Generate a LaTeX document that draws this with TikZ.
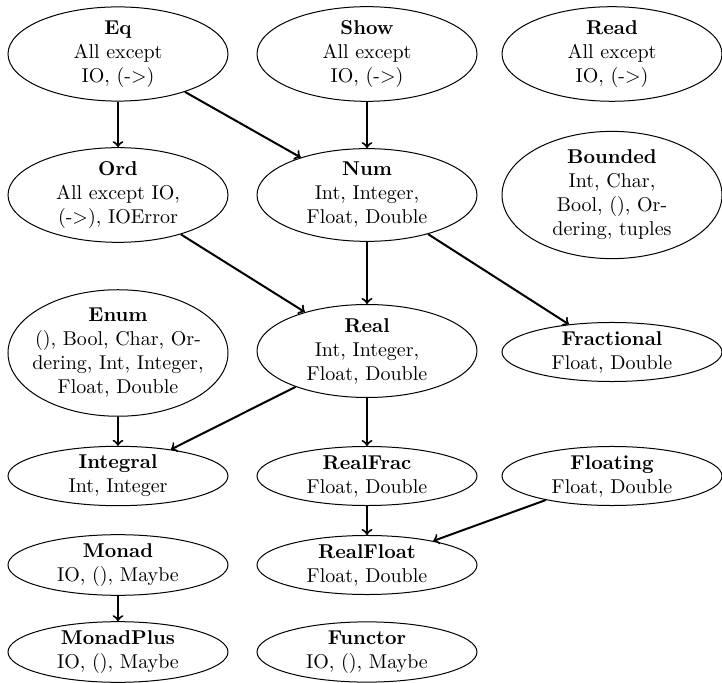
\documentclass[tikz,border=0pt]{standalone}
\usetikzlibrary{shapes.geometric}
\begin{document}
\begin{tikzpicture}[x=0.5pt,y=-0.5pt,
  cls/.style={draw,ellipse,inner sep=0pt,minimum width=110pt,align=center,line width=0.5pt},
  inh/.style={->,line width=1pt}]
\useasboundingbox (0,0) rectangle (722,683);
\node[cls] (eq) at (118,54) {\textbf{Eq}\\All except\\IO, (->)};
\node[cls] (show) at (367,54) {\textbf{Show}\\All except\\IO, (->)};
\node[cls] (read) at (612,54) {\textbf{Read}\\All except\\IO, (->)};
\node[cls] (ord) at (118,195) {\textbf{Ord}\\All except IO,\\(->), IOError};
\node[cls] (num) at (367,195) {\textbf{Num}\\Int, Integer,\\Float, Double};
\node[cls] (bounded) at (612,195) {\textbf{Bounded}\\Int, Char,\\Bool, (), Or-\\dering, tuples};
\node[cls,text width=77pt] (enum) at (118,353) {\textbf{Enum}\\\makebox[77pt]{(), Bool, Char, Or-}\\\makebox[77pt]{dering, Int, Integer,}\\Float, Double};
\node[cls] (real) at (367,351) {\textbf{Real}\\Int, Integer,\\Float, Double};
\node[cls] (fractional) at (612,352) {\textbf{Fractional}\\Float, Double};
\node[cls] (integral) at (118,476) {\textbf{Integral}\\Int, Integer};
\node[cls] (realfrac) at (367,476) {\textbf{RealFrac}\\Float, Double};
\node[cls] (floating) at (612,476) {\textbf{Floating}\\Float, Double};
\node[cls] (monad) at (118,565) {\textbf{Monad}\\IO, (), Maybe};
\node[cls] (realfloat) at (367,565) {\textbf{RealFloat}\\Float, Double};
\node[cls] (monadplus) at (118,652) {\textbf{MonadPlus}\\IO, (), Maybe};
\node[cls] (functor) at (367,652) {\textbf{Functor}\\IO, (), Maybe};
\draw[inh] (eq) -- (ord);
\draw[inh] (eq) -- (num);
\draw[inh] (show) -- (num);
\draw[inh] (ord) -- (real);
\draw[inh] (num) -- (real);
\draw[inh] (num) -- (fractional);
\draw[inh] (enum) -- (integral);
\draw[inh] (real) -- (integral);
\draw[inh] (real) -- (realfrac);
\draw[inh] (realfrac) -- (realfloat);
\draw[inh] (floating) -- (realfloat);
\draw[inh] (monad) -- (monadplus);
\end{tikzpicture}
\end{document}
